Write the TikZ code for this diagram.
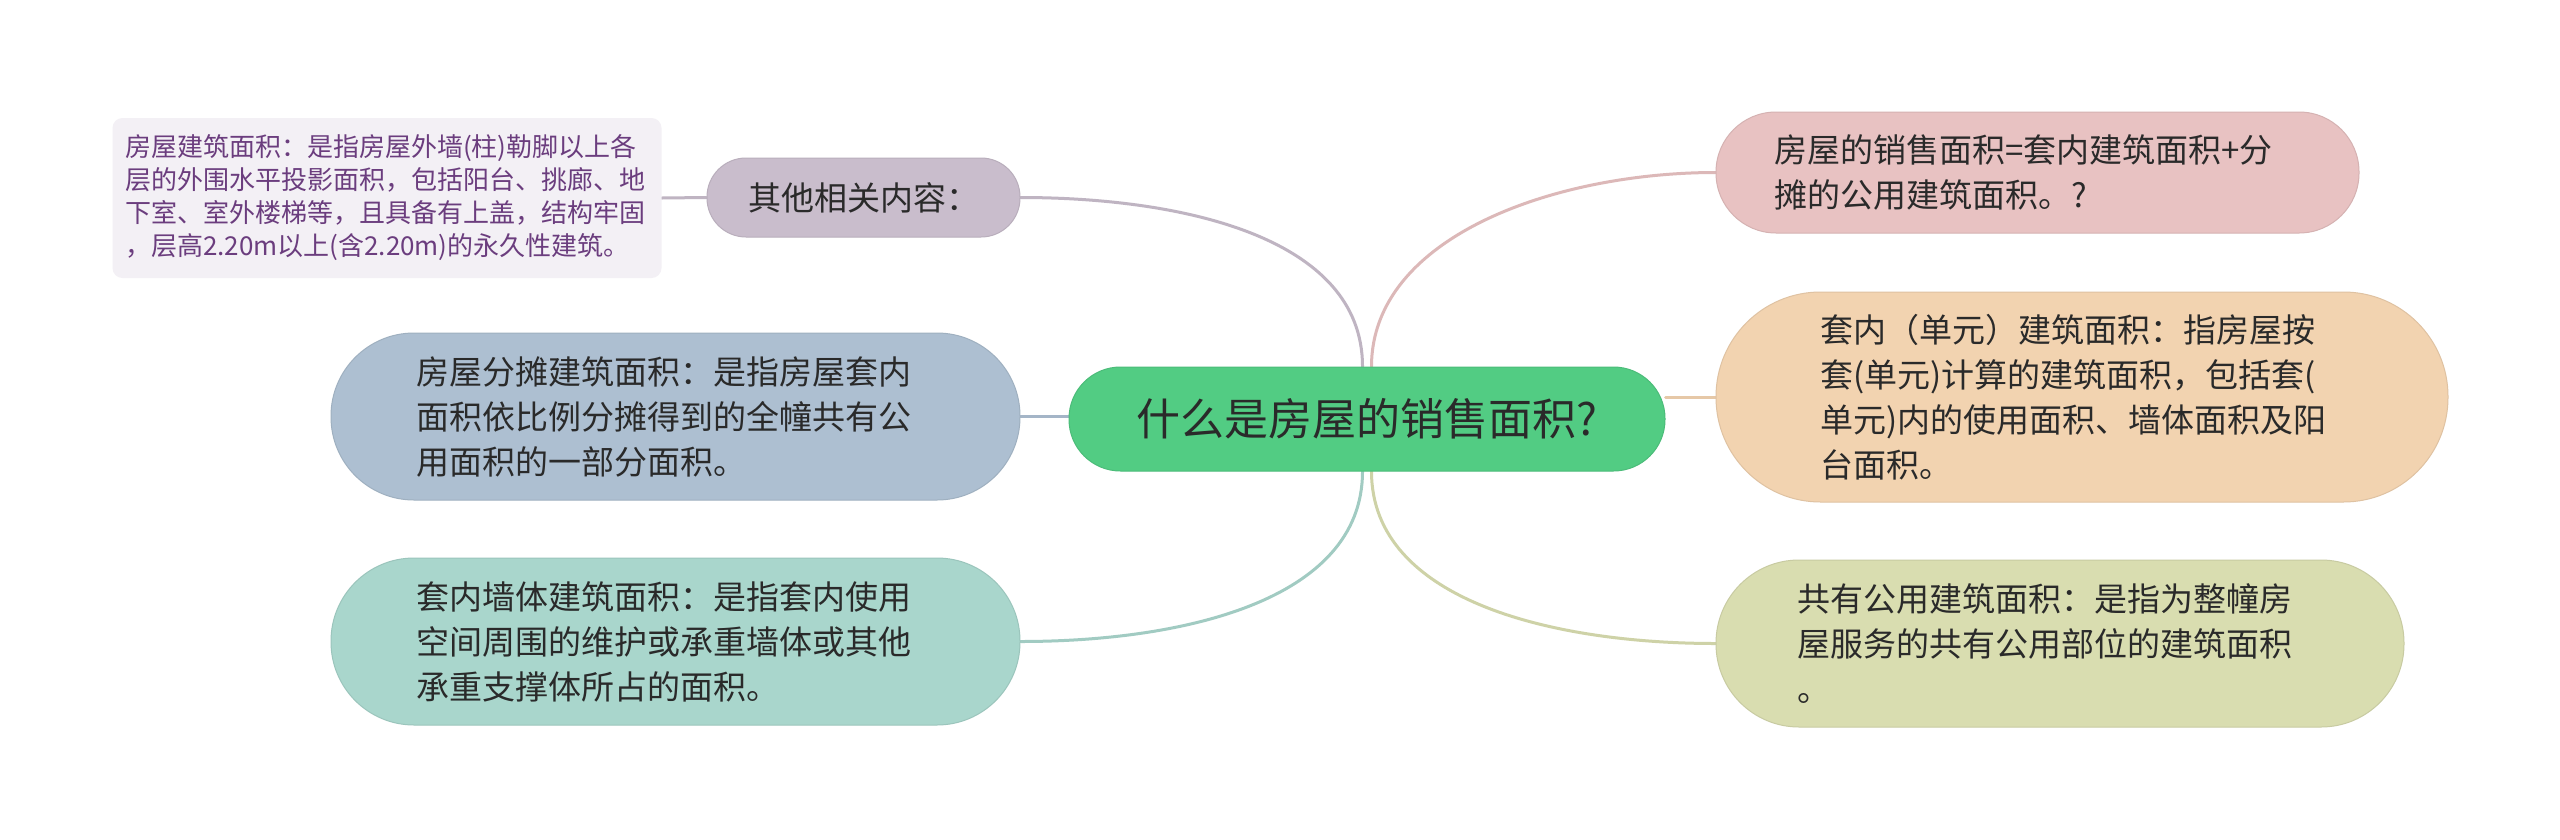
\documentclass[tikz,border=0pt]{standalone}
\usepackage{fontspec}
\setmainfont{Noto Sans CJK SC}
\usetikzlibrary{backgrounds}
\definecolor{txt}{HTML}{2A2A2A}
\definecolor{cgreen}{HTML}{52CC83}
\definecolor{cother}{HTML}{C9BDCC}
\definecolor{cleaf}{HTML}{F3F0F5}
\definecolor{cleaftxt}{HTML}{6B3D7E}
\definecolor{cblue}{HTML}{ADBFD1}
\definecolor{cteal}{HTML}{A9D6CC}
\definecolor{cpink}{HTML}{E8C2C2}
\definecolor{cpeach}{HTML}{F2D3B0}
\definecolor{colive}{HTML}{D9DDB0}
\begin{document}
\begin{tikzpicture}[x=1pt,y=-1pt,
  pill/.style={draw=#1!92!black, fill=#1, line width=1pt, text=txt, align=left, inner sep=0pt},
  body/.style={font=\fontsize{33}{45}\selectfont},
  link/.style={line width=3pt, line cap=round},
]
\useasboundingbox (0,0) rectangle (2560,839);

% central topic
\node[pill=cgreen, rounded corners=51.5pt, minimum width=596pt, minimum height=104pt,
      font=\fontsize{44}{50}\selectfont] (root) at (1367,419) {什么是房屋的销售面积?};

% left side
\node[pill=cother, rounded corners=39pt, minimum width=313pt, minimum height=79pt, body]
  (other) at (863.5,197.5) {其他相关内容：};

\node[fill=cleaf, rounded corners=10pt, minimum width=549pt, minimum height=160pt,
      text width=524pt, align=left, text=cleaftxt, inner sep=0pt,
      font=\fontsize{26}{33}\selectfont] (leaf) at (387,198)
  {房屋建筑面积：是指房屋外墙(柱)勒脚以上各\\
   层的外围水平投影面积，包括阳台、挑廊、地\\
   下室、室外楼梯等，且具备有上盖，结构牢固\\
   ，层高2.20m以上(含2.20m)的永久性建筑。};

\node[pill=cblue, rounded corners=83pt, minimum width=689pt, minimum height=167pt,
      text width=519pt, body] (blue) at (675.5,416.5)
  {房屋分摊建筑面积：是指房屋套内\\
   面积依比例分摊得到的全幢共有公\\
   用面积的一部分面积。};

\node[pill=cteal, rounded corners=83pt, minimum width=689pt, minimum height=167pt,
      text width=519pt, body] (teal) at (675.5,641.5)
  {套内墙体建筑面积：是指套内使用\\
   空间周围的维护或承重墙体或其他\\
   承重支撑体所占的面积。};

% right side
\node[pill=cpink, rounded corners=60pt, minimum width=643pt, minimum height=121pt,
      text width=527pt, body] (pink) at (2037.5,172.5)
  {房屋的销售面积=套内建筑面积+分\\
   摊的公用建筑面积。?};

\node[pill=cpeach, rounded corners=104.5pt, minimum width=732pt, minimum height=210pt,
      text width=524pt, body] (peach) at (2082,397)
  {套内（单元）建筑面积：指房屋按\\
   套(单元)计算的建筑面积，包括套(\\
   单元)内的使用面积、墙体面积及阳\\
   台面积。};

\node[pill=colive, rounded corners=83pt, minimum width=688pt, minimum height=167pt,
      text width=526pt, body] (olive) at (2060,643.5)
  {共有公用建筑面积：是指为整幢房\\
   屋服务的共有公用部位的建筑面积\\
   。};

% connectors
\begin{scope}[on background layer]
  \fill[white] (0,0) rectangle (2560,839);
  \draw[link, draw=cother!95!black] ([xshift=-4.5pt]root.north)
     .. controls +(0,-130) and +(160,0) .. (other.east);
  \draw[link, draw=cpink!95!black] ([xshift=4.5pt]root.north)
     .. controls +(0,-130) and +(-160,0) .. (pink.west);
  \draw[link, draw=cteal!95!black] ([xshift=-4.5pt]root.south)
     .. controls +(0,130) and +(160,0) .. (teal.east);
  \draw[link, draw=colive!95!black] ([xshift=4.5pt]root.south)
     .. controls +(0,130) and +(-160,0) .. (olive.west);
  \draw[link, draw=cblue!95!black] (blue.east) -- (root.west |- blue.east);
  \draw[link, draw=cpeach!95!black] (peach.west) -- (root.east |- peach.west);
  \draw[link, draw=cother!95!black] (leaf.east) -- (other.west);
\end{scope}
\end{tikzpicture}
\end{document}
